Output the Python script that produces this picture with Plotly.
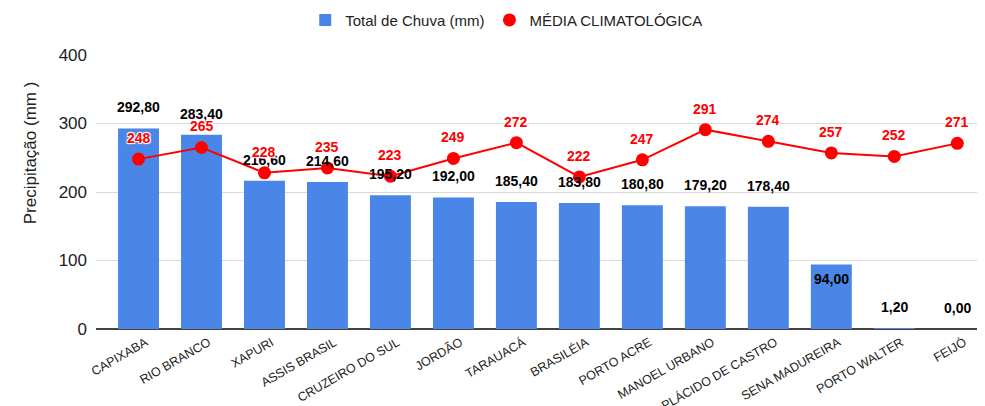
import plotly.graph_objects as go

categories = ["CAPIXABA", "RIO BRANCO", "XAPURI", "ASSIS BRASIL", "CRUZEIRO DO SUL",
              "JORDÃO", "TARAUACÁ", "BRASILÉIA", "PORTO ACRE", "MANOEL URBANO",
              "PLÁCIDO DE CASTRO", "SENA MADUREIRA", "PORTO WALTER", "FEIJÓ"]
total_chuva = [292.8, 283.4, 216.6, 214.6, 195.2, 192.0, 185.4, 183.8, 180.8, 179.2,
               178.4, 94.0, 1.2, 0.0]
media_climatologica = [248, 265, 228, 235, 223, 249, 272, 222, 247, 291, 274, 257, 252, 271]
y_ticks = [0, 100, 200, 300, 400]

FONT = "Liberation Sans, Arial, sans-serif"
BLUE = "#4a86e8"
RED = "#ff0000"

def fmt(v):
    return f"{v:.2f}".replace(".", ",")

fig = go.Figure()
fig.add_trace(go.Bar(
    x=categories, y=total_chuva, name="Total de Chuva (mm)",
    marker=dict(color=BLUE, line=dict(width=0)),
))
fig.add_trace(go.Scatter(
    x=categories, y=media_climatologica, name="MÉDIA CLIMATOLÓGICA",
    mode="lines+markers", line=dict(color=RED, width=2),
    marker=dict(color=RED, size=13), showlegend=False,
))
# legend entry shown as a dot only
fig.add_trace(go.Scatter(
    x=[None], y=[None], name="MÉDIA CLIMATOLÓGICA", mode="markers",
    marker=dict(color=RED, size=13), showlegend=True,
))

annotations = []
for c, v in zip(categories, total_chuva):
    inside = 50 < v < 150
    annotations.append(dict(
        x=c, y=v, xref="x", yref="y", text=fmt(v), showarrow=False,
        yshift=-14 if inside else 21,
        font=dict(family=FONT, size=14, color="#000000", weight="bold"),
    ))
for c, v in zip(categories, media_climatologica):
    annotations.append(dict(
        x=c, y=v, xref="x", yref="y", text=str(v), showarrow=False,
        yshift=21,
        font=dict(family=FONT, size=14, color=RED, weight="bold",
                  shadow="1px 1px 1px #fff, -1px -1px 1px #fff, 1px -1px 1px #fff, -1px 1px 1px #fff"),
    ))
# y-axis title (placed like the reference, above the plot's vertical centre)
annotations.append(dict(
    x=-0.074, y=0.642, xref="paper", yref="paper", text="Precipitação (mm )",
    textangle=-90, showarrow=False, xanchor="center", yanchor="middle",
    font=dict(family=FONT, size=17, color="#222222"),
))

fig.update_layout(
    width=985, height=406,
    margin=dict(l=88, r=8, t=47, b=85, autoexpand=False),
    paper_bgcolor="white", plot_bgcolor="white",
    font=dict(family=FONT, size=15, color="#222222"),
    bargap=0.35,
    showlegend=True,
    legend=dict(orientation="h", x=0.462, xanchor="center", y=0.97, yref="container",
                yanchor="middle", font=dict(size=15, color="#222222"),
                itemwidth=30, traceorder="normal"),
    annotations=annotations,
    xaxis=dict(
        range=[-0.675, 13.44], tickangle=-30, tickfont=dict(size=12.5, color="#222222"),
        showgrid=False, ticks="", showline=False, ticklabelstandoff=3, ticklabelshift=7,
    ),
    yaxis=dict(
        range=[0, 400], tickvals=y_ticks, tickfont=dict(size=17, color="#222222"),
        showgrid=True, gridcolor="#d9d9d9", gridwidth=1,
        zeroline=True, zerolinecolor="#444444", zerolinewidth=1.5,
        ticklabelstandoff=8,
        ticks="", showline=False,
    ),
)

fig.write_html("out.html")
